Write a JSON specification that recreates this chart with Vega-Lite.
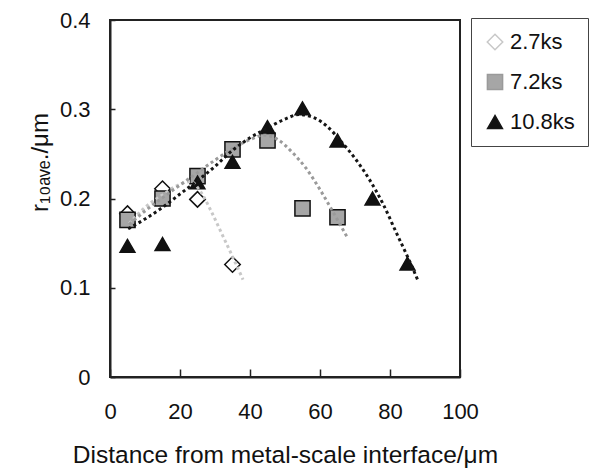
{
  "$schema": "https://vega.github.io/schema/vega-lite/v6.json",
  "width": 350,
  "height": 357,
  "autosize": "none",
  "padding": {"left": 110, "top": 20, "right": 133, "bottom": 95},
  "background": "white",
  "config": {
    "font": "Liberation Sans",
    "view": {"stroke": "#222", "strokeWidth": 2},
    "axis": {"grid": false, "domainColor": "#222", "domainWidth": 2, "tickColor": "#222", "tickWidth": 1.5, "labelColor": "#111", "titleColor": "#111", "labelFontSize": 22, "titleFontSize": 24, "titleFontWeight": "normal", "labelFont": "Liberation Sans", "titleFont": "Liberation Sans"},
    "legend": {"strokeColor": "#444", "fillColor": "white", "padding": 13, "rowPadding": 18, "labelFontSize": 22, "labelFont": "Liberation Sans", "labelColor": "#111", "labelOffset": 4, "symbolStrokeColor": "#111", "symbolStrokeWidth": 1.5, "symbolOpacity": 1}
  },
  "datasets": {
    "points": [
      {"series": "2.7ks", "x": 5, "y": 0.183},
      {"series": "2.7ks", "x": 15, "y": 0.211},
      {"series": "2.7ks", "x": 25, "y": 0.199},
      {"series": "2.7ks", "x": 35, "y": 0.126},
      {"series": "7.2ks", "x": 5, "y": 0.176},
      {"series": "7.2ks", "x": 15, "y": 0.200},
      {"series": "7.2ks", "x": 25, "y": 0.225},
      {"series": "7.2ks", "x": 35, "y": 0.255},
      {"series": "7.2ks", "x": 45, "y": 0.265},
      {"series": "7.2ks", "x": 55, "y": 0.189},
      {"series": "7.2ks", "x": 65, "y": 0.179},
      {"series": "10.8ks", "x": 5, "y": 0.147},
      {"series": "10.8ks", "x": 15, "y": 0.149},
      {"series": "10.8ks", "x": 25, "y": 0.218},
      {"series": "10.8ks", "x": 35, "y": 0.241},
      {"series": "10.8ks", "x": 45, "y": 0.280},
      {"series": "10.8ks", "x": 55, "y": 0.301},
      {"series": "10.8ks", "x": 65, "y": 0.265},
      {"series": "10.8ks", "x": 75, "y": 0.200},
      {"series": "10.8ks", "x": 85, "y": 0.127}
    ],
    "curves": [
      {"series": "2.7ks", "x": 5.5, "y": 0.172},
      {"series": "2.7ks", "x": 10, "y": 0.19},
      {"series": "2.7ks", "x": 15, "y": 0.204},
      {"series": "2.7ks", "x": 20, "y": 0.216},
      {"series": "2.7ks", "x": 23, "y": 0.219},
      {"series": "2.7ks", "x": 26, "y": 0.207},
      {"series": "2.7ks", "x": 29, "y": 0.185},
      {"series": "2.7ks", "x": 32, "y": 0.16},
      {"series": "2.7ks", "x": 35, "y": 0.135},
      {"series": "2.7ks", "x": 38, "y": 0.109},
      {"series": "7.2ks", "x": 5.5, "y": 0.171},
      {"series": "7.2ks", "x": 10, "y": 0.186},
      {"series": "7.2ks", "x": 15, "y": 0.201},
      {"series": "7.2ks", "x": 20, "y": 0.215},
      {"series": "7.2ks", "x": 25, "y": 0.229},
      {"series": "7.2ks", "x": 30, "y": 0.243},
      {"series": "7.2ks", "x": 35, "y": 0.256},
      {"series": "7.2ks", "x": 40, "y": 0.266},
      {"series": "7.2ks", "x": 44, "y": 0.271},
      {"series": "7.2ks", "x": 48, "y": 0.266},
      {"series": "7.2ks", "x": 52, "y": 0.252},
      {"series": "7.2ks", "x": 56, "y": 0.234},
      {"series": "7.2ks", "x": 60, "y": 0.21},
      {"series": "7.2ks", "x": 64, "y": 0.183},
      {"series": "7.2ks", "x": 68, "y": 0.155},
      {"series": "10.8ks", "x": 5.2, "y": 0.166},
      {"series": "10.8ks", "x": 10, "y": 0.177},
      {"series": "10.8ks", "x": 15, "y": 0.19},
      {"series": "10.8ks", "x": 20, "y": 0.205},
      {"series": "10.8ks", "x": 25, "y": 0.22},
      {"series": "10.8ks", "x": 30, "y": 0.236},
      {"series": "10.8ks", "x": 35, "y": 0.254},
      {"series": "10.8ks", "x": 40, "y": 0.268},
      {"series": "10.8ks", "x": 45, "y": 0.279},
      {"series": "10.8ks", "x": 50, "y": 0.289},
      {"series": "10.8ks", "x": 54, "y": 0.294},
      {"series": "10.8ks", "x": 58, "y": 0.291},
      {"series": "10.8ks", "x": 62, "y": 0.281},
      {"series": "10.8ks", "x": 66, "y": 0.264},
      {"series": "10.8ks", "x": 70, "y": 0.245},
      {"series": "10.8ks", "x": 74, "y": 0.222},
      {"series": "10.8ks", "x": 78, "y": 0.194},
      {"series": "10.8ks", "x": 82, "y": 0.16},
      {"series": "10.8ks", "x": 85, "y": 0.135},
      {"series": "10.8ks", "x": 88, "y": 0.108}
    ]
  },
  "layer": [
    {
      "data": {"name": "points"},
      "mark": {"type": "point", "filled": true, "stroke": "#111", "strokeWidth": 1.5, "opacity": 1},
      "encoding": {
        "x": {"field": "x", "type": "quantitative", "scale": {"domain": [0, 100], "nice": false},
          "axis": {"title": "Distance from metal-scale interface/μm", "values": [0, 10, 20, 30, 40, 50, 60, 70, 80, 90, 100], "labelExpr": "datum.value % 20 === 0 ? datum.label : ''", "tickSize": -8, "labelPadding": 32, "titlePadding": 21, "titleFontSize": 24.5, "labelFlush": false}},
        "y": {"field": "y", "type": "quantitative", "scale": {"domain": [0, 0.4], "nice": false},
          "axis": {"title": "r₁₀ₐᵥₑ./μm", "values": [0, 0.1, 0.2, 0.3, 0.4], "format": "~g", "tickSize": -5, "labelPadding": 25, "titlePadding": 7, "titleY": 142, "labelFlush": false}},
        "shape": {"field": "series", "type": "nominal",
          "scale": {"domain": ["2.7ks", "7.2ks", "10.8ks"], "range": ["diamond", "square", "triangle-up"]},
          "legend": {"title": null, "orient": "none", "legendX": 361, "legendY": -2, "symbolStrokeColor": "#111"}},
        "fill": {"field": "series", "type": "nominal",
          "scale": {"domain": ["2.7ks", "7.2ks", "10.8ks"], "range": ["white", "#a6a6a6", "#111"]},
          "legend": {"title": null, "orient": "none", "legendX": 361, "legendY": -2, "symbolStrokeColor": "#111"}},
        "size": {"field": "series", "type": "nominal",
          "scale": {"domain": ["2.7ks", "7.2ks", "10.8ks"], "range": [240, 220, 320]},
          "legend": {"title": null, "orient": "none", "legendX": 361, "legendY": -2, "symbolStrokeColor": "#111"}}
      }
    },
    {
      "data": {"name": "curves"},
      "mark": {"type": "line", "strokeWidth": 3, "strokeDash": [3, 3], "interpolate": "monotone"},
      "encoding": {
        "x": {"field": "x", "type": "quantitative"},
        "y": {"field": "y", "type": "quantitative"},
        "detail": {"field": "series", "type": "nominal"},
        "order": {"field": "x", "type": "quantitative"},
        "stroke": {"field": "series", "type": "nominal",
          "scale": {"domain": ["2.7ks", "7.2ks", "10.8ks"], "range": ["#c8c8c8", "#9a9a9a", "#151515"]},
          "legend": null}
      }
    }
  ]
}
